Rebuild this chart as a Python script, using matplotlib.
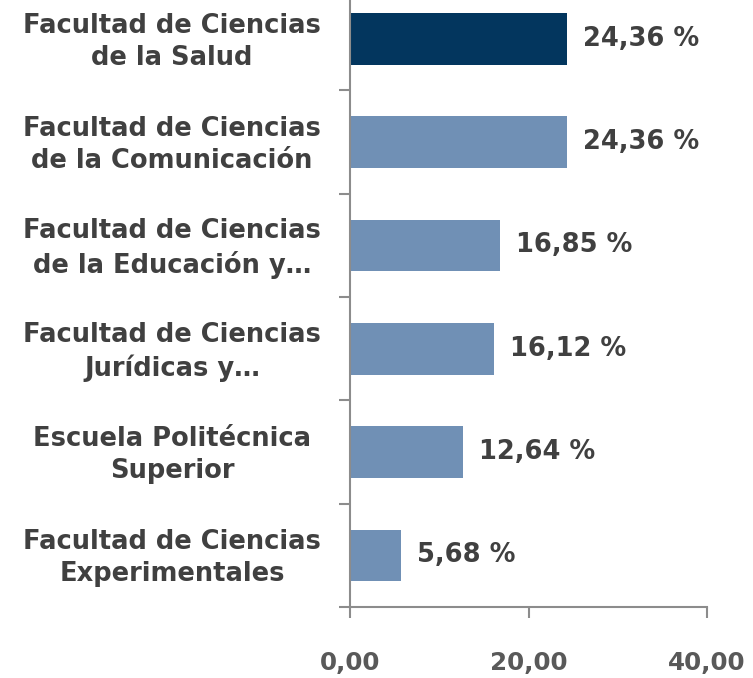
import matplotlib
matplotlib.use("Agg")
import matplotlib.pyplot as plt
from matplotlib.transforms import blended_transform_factory

# categories top to bottom
categories = [
    "Facultad de Ciencias\nde la Salud",
    "Facultad de Ciencias\nde la Comunicación",
    "Facultad de Ciencias\nde la Educación y…",
    "Facultad de Ciencias\nJurídicas y…",
    "Escuela Politécnica\nSuperior",
    "Facultad de Ciencias\nExperimentales",
]
values = [24.36, 24.36, 16.85, 16.12, 12.64, 5.68]
value_labels = ["24,36 %", "24,36 %", "16,85 %", "16,12 %", "12,64 %", "5,68 %"]
xticks = [0, 20, 40]
xtick_labels = ["0,00", "20,00", "40,00"]

dark = "#03365E"
light = "#7090B5"
text_col = "#404040"
axis_col = "#8C8C8C"

plt.rcParams['font.family'] = ['DejaVu Sans']

fig = plt.figure(figsize=(7.53, 6.78), dpi=100)
ax = fig.add_axes([350 / 753, 71 / 678, 357 / 753, 620 / 678])

y = list(range(len(categories)))
colors = [dark] + [light] * (len(categories) - 1)
ax.barh(y, values, height=0.5, color=colors, edgecolor="none")

ax.set_xlim(0, 40)
ax.set_ylim(len(categories) - 0.5, -0.5)

for spine in ["top", "right"]:
    ax.spines[spine].set_visible(False)
for spine in ["left", "bottom"]:
    ax.spines[spine].set_color(axis_col)
    ax.spines[spine].set_linewidth(1.5)

ax.set_xticks(xticks)
ax.set_xticklabels(xtick_labels, fontsize=17.7, fontweight="bold", color="#595959")
ax.tick_params(axis="x", direction="out", length=8, width=1.5, color=axis_col, pad=24)

# y ticks at category boundaries, no labels
ax.set_yticks([i + 0.5 for i in range(len(categories))])
ax.set_yticklabels([])
ax.tick_params(axis="y", direction="out", length=8, width=1.5, color=axis_col)

trans = blended_transform_factory(ax.transAxes, ax.transData)
for yi, cat in zip(y, categories):
    ax.text(-0.4986, yi + 0.03, cat, transform=trans, ha="center", va="center",
            fontsize=18.5, fontweight="bold", color=text_col, linespacing=1.3)

for yi, v, lab in zip(y, values, value_labels):
    ax.text(v + 1.8, yi, lab, ha="left", va="center",
            fontsize=18.5, fontweight="bold", color=text_col)

fig.savefig("out.png", dpi=100)
